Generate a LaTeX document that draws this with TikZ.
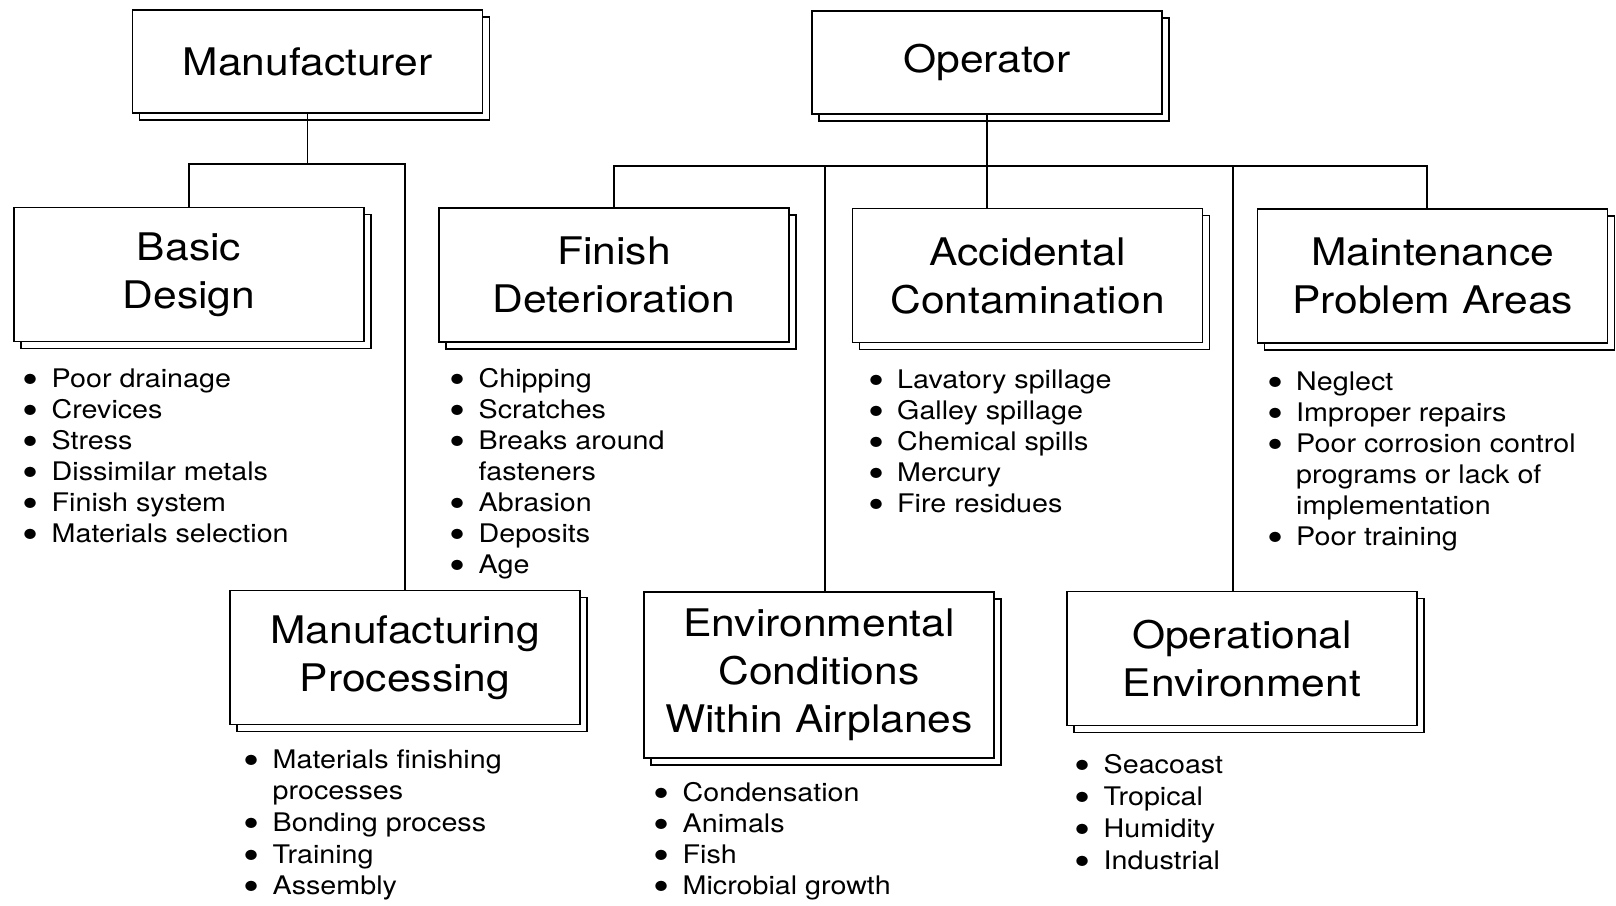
\documentclass[tikz,border=0pt]{standalone}
\usepackage{fontspec}
\setmainfont{TeX Gyre Heros}[FakeStretch=1.12]
\usetikzlibrary{positioning,shadows}
% bullet lists: one row per line, empty first cell for a wrapped line
\newcommand{\bl}{\makebox[5pt]{\smash{\raisebox{-3pt}{\scalebox{1.6}{\textbullet}}}} &}
\newcommand{\blist}[1]{\begin{tabular}{@{}l@{\hspace{8pt}}l@{}}#1\end{tabular}}
\tikzset{
  box/.style={draw,fill=white,line width=0.7pt,align=center,inner sep=2pt,
    minimum width=175pt,minimum height=67pt,font=\fontsize{19}{24}\selectfont,
    copy shadow={draw=black,fill=white,line width=0.7pt,shadow xshift=3.5pt,shadow yshift=-3.5pt}},
  topbox/.style={box,minimum height=51.5pt},
  items/.style={anchor=north west,inner sep=0pt,font=\fontsize{12.8}{#1}\selectfont},
  items/.default=15.5pt,
  link/.style={line width=0.7pt},
}
\begin{document}
\begin{tikzpicture}[x=0.5pt,y=-0.5pt]
  \useasboundingbox (0,0) rectangle (1616,905);
  % sources
  \node[topbox] (man) at (307.5,61.5) {Manufacturer};
  \node[topbox] (op) at (987,62.5) {Operator};
  % causes
  \node[box] (bd) at (189,274.5) {Basic\\Design};
  \node[box] (mp) at (405,657.5) {Manufacturing\\Processing};
  \node[box] (fd) at (614,275) {Finish\\Deterioration};
  \node[box] (ac) at (1027.5,275.5) {Accidental\\Contamination};
  \node[box] (mpa) at (1432.5,276) {Maintenance\\Problem Areas};
  \node[box,minimum height=83pt] (ec) at (819,675) {Environmental\\Conditions\\Within Airplanes};
  \node[box] (oe) at (1242,658.5) {Operational\\Environment};
  % item lists under each cause
  \node[items,below right=11.5pt and 6pt of bd.south west] (bdl) {\blist{
    \bl Poor drainage\\ \bl Crevices\\ \bl Stress\\ \bl Dissimilar metals\\
    \bl Finish system\\ \bl Materials selection}};
  \node[items=15.8pt,below right=10.3pt and 8.5pt of mp.south west] (mpl) {\blist{
    \bl Materials finishing\\ & processes\\ \bl Bonding process\\ \bl Training\\
    \bl Assembly}};
  \node[items,below right=11.5pt and 7pt of fd.south west] (fdl) {\blist{
    \bl Chipping\\ \bl Scratches\\ \bl Breaks around\\ & fasteners\\
    \bl Abrasion\\ \bl Deposits\\ \bl Age}};
  \node[items,below right=11.5pt and 9.5pt of ac.south west] (acl) {\blist{
    \bl Lavatory spillage\\ \bl Galley spillage\\ \bl Chemical spills\\
    \bl Mercury\\ \bl Fire residues}};
  \node[items,below right=12.5pt and 6.5pt of mpa.south west] (mpal) {\blist{
    \bl Neglect\\ \bl Improper repairs\\ \bl Poor corrosion control\\
    & programs or lack of\\ & implementation\\ \bl Poor training}};
  \node[items,below right=10.5pt and 6.5pt of ec.south west] (ecl) {\blist{
    \bl Condensation\\ \bl Animals\\ \bl Fish\\ \bl Microbial growth}};
  \node[items=16pt,below right=12pt and 5.5pt of oe.south west] (oel) {\blist{
    \bl Seacoast\\ \bl Tropical\\ \bl Humidity\\ \bl Industrial}};
  % manufacturer tree
  \coordinate (mj) at (man.south |- 0,164);
  \draw[link] (man.south) -- (mj);
  \draw[link] (bd.north) |- (mj) -| (mp.north);
  % operator tree
  \coordinate (oj) at (op.south |- 0,166);
  \coordinate (mpat) at ([xshift=-2.75pt]mpa.north);
  \coordinate (ect) at ([xshift=3pt]ec.north);
  \coordinate (oet) at ([xshift=-4.5pt]oe.north);
  \draw[link] (op.south) -- (op.south |- ac.north);
  \draw[link] (fd.north) |- (oj) -| (mpat);
  \draw[link] (ect) -- (ect |- oj);
  \draw[link] (oet) -- (oet |- oj);
\end{tikzpicture}
\end{document}
